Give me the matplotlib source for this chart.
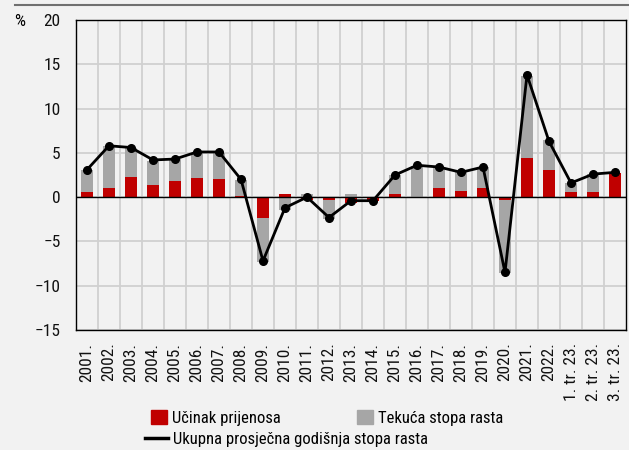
import numpy as np
import matplotlib.pyplot as plt
from matplotlib.patches import Patch
from matplotlib.lines import Line2D

plt.rcParams['font.family'] = ['Roboto Condensed', 'DejaVu Sans']

# categories
labels = ['2001.', '2002.', '2003.', '2004.', '2005.', '2006.', '2007.', '2008.',
          '2009.', '2010.', '2011.', '2012.', '2013.', '2014.', '2015.', '2016.',
          '2017.', '2018.', '2019.', '2020.', '2021.', '2022.',
          '1. tr. 23.', '2. tr. 23.', '3. tr. 23.']

# carry-over effect (red)
carry = [0.6, 1.0, 2.3, 1.4, 1.8, 2.2, 2.0, 0.15, -2.3, 0.3, -0.3, -0.35, -0.7,
         -0.4, 0.4, 0.0, 1.05, 0.7, 1.05, -0.3, 4.4, 3.1, 0.6, 0.6, 2.7]
# current growth rate (gray)
current = [2.5, 4.8, 3.3, 2.7, 2.5, 2.8, 3.0, 1.8, -5.0, -1.5, 0.3, -2.1, 0.3,
           0.0, 2.1, 3.57, 2.25, 2.1, 2.4, -8.3, 9.3, 3.3, 1.0, 2.0, 0.0]
# total average annual growth rate (line)
total = [3.1, 5.8, 5.6, 4.2, 4.3, 5.1, 5.1, 2.0, -7.2, -1.2, 0.0, -2.3, -0.4,
         -0.4, 2.5, 3.6, 3.4, 2.8, 3.4, -8.5, 13.8, 6.3, 1.6, 2.6, 2.8]

red = '#c00000'
gray = '#a6a6a6'
bg = '#f2f2f2'

x = np.arange(len(labels))
fig = plt.figure(figsize=(6.29, 4.5), dpi=100, facecolor=bg)
ax = fig.add_axes([76/629, 1-330/450, 550/629, 310/450])
ax.set_facecolor(bg)

# stacked bars, positives up and negatives down
pos_b = np.zeros(len(x))
neg_b = np.zeros(len(x))
for vals, col in [(carry, red), (current, gray)]:
    v = np.array(vals)
    bottom = np.where(v >= 0, pos_b, neg_b)
    ax.bar(x, v, bottom=bottom, width=0.55, color=col, zorder=2)
    pos_b += np.where(v >= 0, v, 0)
    neg_b += np.where(v < 0, v, 0)

ax.plot(x, total, color='black', lw=2, marker='o', ms=5.5, zorder=4)
ax.axhline(0, color='black', lw=1, zorder=3)

ax.set_xlim(-0.5, len(x)-0.5)
ax.set_ylim(-15, 20)
ax.set_yticks(np.arange(-15, 21, 5))
ax.set_yticklabels([str(v).replace('-', '\u2212') for v in range(-15, 21, 5)])
ax.set_xticks(x)
ax.set_xticklabels(labels, rotation=90, va='top', ha='center')
ax.set_xticks(x[:-1] + 0.5, minor=True)
ax.tick_params(axis='both', which='both', length=0, labelsize=12.5, colors='#111111')
ax.tick_params(axis='y', pad=11)
ax.tick_params(axis='x', pad=9)
ax.grid(axis='x', which='minor', color='#d0d0d0', lw=1.3, zorder=0)
ax.grid(axis='y', which='major', color='#d0d0d0', lw=1.3, zorder=0)
ax.set_axisbelow(True)
for s in ax.spines.values():
    s.set_color('black')
    s.set_linewidth(1)

fig.text(14/629, 1-22/450, '%', fontsize=12.5, va='center', ha='left')
fig.add_artist(Line2D([15/629, 1], [1-5/450, 1-5/450], color='#707070', lw=1.5))

# legend entries placed one by one
entries = [
    (Patch(color=red), 'Učinak prijenosa', 143, 418, 0.95),
    (Patch(color=gray), 'Tekuća stopa rasta', 349, 418, 0.95),
    (Line2D([], [], color='black', lw=2.5), 'Ukupna prosječna godišnja stopa rasta', 137, 439, 1.35),
]
for h, t, px, py, hl in entries:
    fig.legend([h], [t], loc='center left', bbox_to_anchor=(px/629, 1-py/450),
               frameon=False, fontsize=12, handlelength=hl, handleheight=0.85,
               handletextpad=0.3, borderpad=0, borderaxespad=0.5)

fig.savefig('out.png', dpi=100, facecolor=bg)
